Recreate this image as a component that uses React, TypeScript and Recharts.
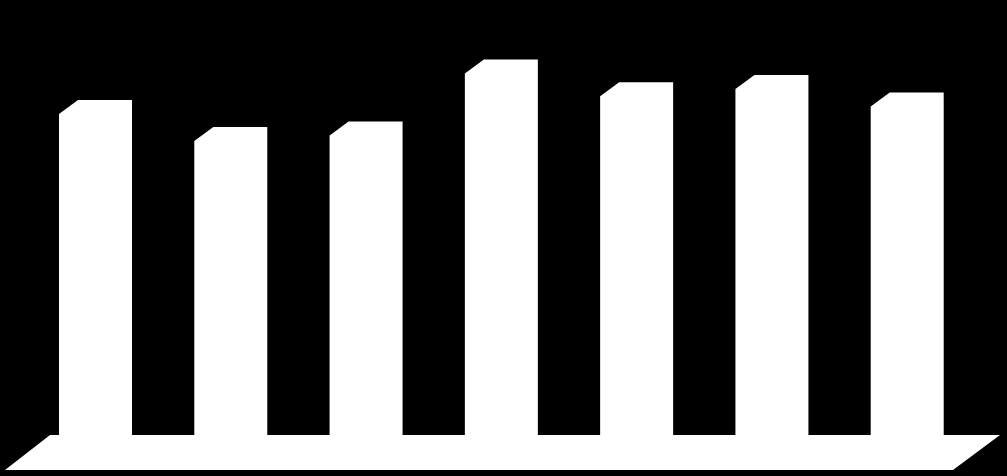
import React from "react";
import { BarChart, Bar, XAxis, YAxis, ReferenceArea } from "recharts";

const categories = ["1", "2", "3", "4", "5", "6", "7"];
const values = [83.75, 77, 78.4, 93.9, 88.2, 90, 85.6];

const data = categories.map((name, i) => ({ name, value: values[i] }));

// bar silhouette with the bevelled top-left corner
const BevelBar = (props: any) => {
  const { x, y, width, height } = props;
  const dx = 19;
  const dy = 14;
  const d = `M${x},${y + height} L${x},${y + dy} L${x + dx},${y} L${x + width},${y} L${x + width},${y + height} Z`;
  return <path d={d} fill="#fff" />;
};

// floor slab below the bars
const Floor = (props: any) => {
  const { x, y, width, height } = props;
  const left = x - 23;
  const right = x + width + 25;
  const d = `M${left + 45},${y} L${right},${y} L${right - 47},${y + height} L${left},${y + height} Z`;
  return <path d={d} fill="#fff" />;
};

export default function App() {
  return (
    <div style={{ position: "fixed", left: 0, top: 0, width: 1007, height: 476, background: "#000" }}>
      <BarChart
        width={1007}
        height={476}
        data={data}
        margin={{ top: 35, right: 32, bottom: 6, left: 28 }}
      >
        <XAxis dataKey="name" hide />
        <YAxis hide domain={[-8.75, 100]} allowDataOverflow />
        <ReferenceArea y1={-8.75} y2={0} ifOverflow="visible" shape={<Floor />} />
        <Bar dataKey="value" barSize={73} shape={<BevelBar />} isAnimationActive={false} />
      </BarChart>
    </div>
  );
}
